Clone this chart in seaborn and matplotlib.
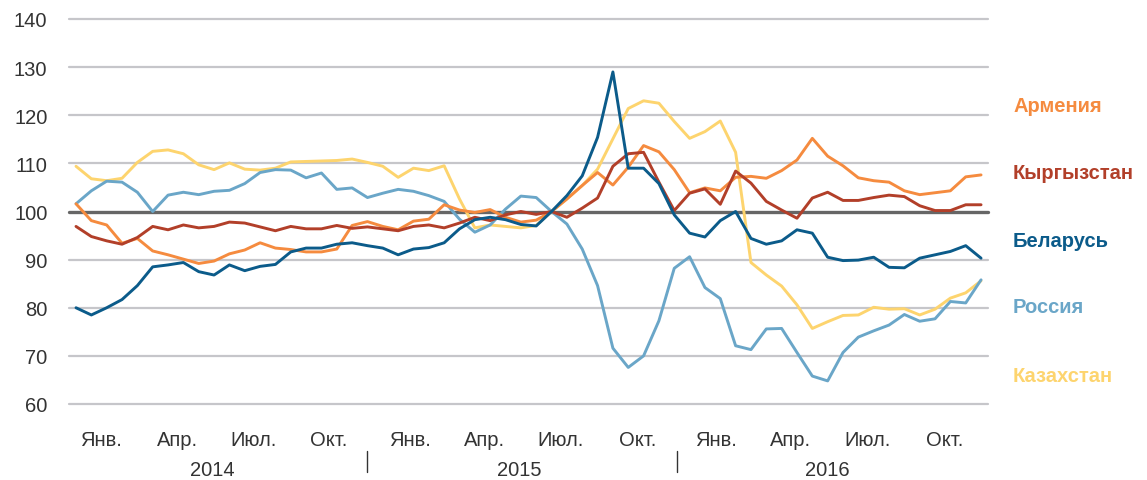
import numpy as np
import pandas as pd
import matplotlib
matplotlib.use("Agg")
import matplotlib.pyplot as plt
import matplotlib.transforms as mtransforms
import seaborn as sns

# ---------------- data ----------------
countries = ["Армения", "Кыргызстан", "Беларусь", "Россия", "Казахстан"]

armenia = [101.6, 98.1, 97.2, 93.4, 94.4, 91.8, 91.0, 90.1, 89.2, 89.7,
           91.2, 92.0, 93.5, 92.4, 92.1, 91.6, 91.6, 92.2, 97.1, 97.9,
           96.9, 96.2, 98.0, 98.4, 101.4, 100.3, 99.8, 100.4, 98.8, 97.8,
           98.2, 100.0, 102.6, 105.4, 108.1, 105.5, 109.2, 113.7, 112.4, 108.7,
           103.9, 104.9, 104.3, 107.1, 107.3, 106.9, 108.5, 110.7, 115.2, 111.5,
           109.5, 107.0, 106.4, 106.1, 104.3, 103.5, 103.9, 104.3, 107.2, 107.6]

kyrgyzstan = [96.9, 94.8, 93.9, 93.2, 94.6, 96.9, 96.2, 97.2, 96.6, 96.9,
              97.8, 97.6, 96.8, 96.0, 96.9, 96.4, 96.4, 97.1, 96.5, 96.8,
              96.4, 96.0, 96.9, 97.2, 96.6, 97.6, 98.8, 98.1, 99.3, 100.0,
              99.4, 100.0, 98.8, 100.7, 102.8, 109.4, 112.0, 112.3, 106.1, 100.2,
              103.8, 104.7, 101.5, 108.4, 105.9, 102.1, 100.3, 98.6, 102.8, 104.0,
              102.3, 102.3, 102.9, 103.4, 103.1, 101.2, 100.2, 100.2, 101.4, 101.4]

belarus = [80.0, 78.5, 80.0, 81.7, 84.6, 88.5, 88.9, 89.4, 87.5, 86.8,
           88.9, 87.7, 88.6, 89.0, 91.6, 92.4, 92.4, 93.2, 93.5, 92.9,
           92.4, 91.0, 92.2, 92.5, 93.5, 96.4, 98.3, 98.8, 98.3, 97.3,
           97.0, 100.0, 103.3, 107.4, 115.4, 129.0, 109.0, 109.0, 105.8, 99.3,
           95.5, 94.7, 98.1, 100.0, 94.4, 93.2, 93.9, 96.2, 95.5, 90.5,
           89.8, 89.9, 90.5, 88.4, 88.3, 90.3, 91.0, 91.7, 92.9, 90.3]

russia = [101.6, 104.3, 106.3, 106.1, 104.0, 100.0, 103.4, 104.0, 103.5, 104.2,
          104.4, 105.8, 108.1, 108.7, 108.6, 107.0, 108.0, 104.6, 104.9, 102.9,
          103.8, 104.6, 104.2, 103.3, 102.1, 98.4, 95.7, 97.2, 100.5, 103.2,
          102.9, 100.0, 97.4, 92.2, 84.6, 71.6, 67.6, 70.0, 77.3, 88.2,
          90.6, 84.2, 81.9, 72.1, 71.3, 75.6, 75.7, 70.7, 65.8, 64.8,
          70.7, 73.9, 75.2, 76.4, 78.6, 77.2, 77.7, 81.3, 81.0, 85.8]

kazakhstan = [109.4, 106.8, 106.4, 106.9, 110.2, 112.5, 112.8, 112.0, 109.7, 108.7,
              110.1, 108.8, 108.6, 109.0, 110.3, 110.4, 110.5, 110.6, 110.9, 110.2,
              109.4, 107.1, 109.0, 108.5, 109.5, 102.6, 96.6, 97.2, 96.9, 96.6,
              97.1, 100.0, 102.6, 105.4, 108.8, 115.1, 121.4, 123.0, 122.5, 118.7,
              115.2, 116.6, 118.8, 112.3, 89.4, 86.8, 84.5, 80.6, 75.7, 77.1,
              78.4, 78.5, 80.1, 79.7, 79.8, 78.5, 79.7, 82.0, 83.1, 85.6]

month_labels = ["Янв.", "Апр.", "Июл.", "Окт."] * 3
month_pos = [1.65, 6.6, 11.6, 16.5, 21.8, 26.6, 31.6, 36.6, 41.7, 46.6, 51.6, 56.6]
years = ["2014", "2015", "2016"]
year_pos = [8.9, 28.9, 49.0]
separators = [19.0, 39.2]

label_y = [122.0, 108.0, 93.9, 80.2, 66.0]  # label positions (data y)

# ---------------- build frame ----------------
series = [armenia, kyrgyzstan, belarus, russia, kazakhstan]
frames = []
for name, vals in zip(countries, series):
    frames.append(pd.DataFrame({"t": np.arange(len(vals)), "value": vals, "country": name}))
df = pd.concat(frames, ignore_index=True)

colors = {"Армения": "#F58B3F", "Кыргызстан": "#B23F29", "Беларусь": "#0B5B8A",
          "Россия": "#6AA6C8", "Казахстан": "#FDD46E"}

sns.set_theme(style="white")
plt.rcParams["font.family"] = ["Liberation Sans", "DejaVu Sans"]

W, H = 1147, 481
fig = plt.figure(figsize=(W / 100, H / 100), dpi=100)
left, right, top, bottom = 69, 988, 20, 405
ax = fig.add_axes([left / W, 1 - bottom / H, (right - left) / W, (bottom - top) / H])

# grid
for yv in range(60, 141, 10):
    if yv == 100:
        continue
    ax.axhline(yv, color="#c6c6ca", lw=1.6, zorder=0, clip_on=False)
ax.axhline(100, color="#666666", lw=2.4, zorder=1, clip_on=False)

draw_order = ["Казахстан", "Россия", "Армения", "Кыргызстан", "Беларусь"]
sns.lineplot(data=df, x="t", y="value", hue="country", hue_order=draw_order,
             palette=colors, linewidth=2.1, legend=False, ax=ax, zorder=3)

px_per_i = 15.34
ax.set_xlim((left - 76) / px_per_i, (right - 76) / px_per_i)
ax.set_ylim(60, 140)
for s in ax.spines.values():
    s.set_visible(False)

fs = 14.5
ax.set_yticks(range(60, 141, 10))
ax.tick_params(axis="y", length=0, pad=15.5, labelsize=fs, labelcolor="#333333")
ax.set_xticks(month_pos)
ax.set_xticklabels(month_labels)
ax.tick_params(axis="x", length=0, pad=19, labelsize=fs, labelcolor="#333333")
ax.set_xlabel("")
ax.set_ylabel("")

trans = mtransforms.blended_transform_factory(ax.transData, ax.transAxes)
for yr, xp in zip(years, year_pos):
    ax.text(xp, -0.171, yr, transform=trans, ha="center", va="center",
            fontsize=fs, color="#333333")
for xs in separators:
    ax.plot([xs, xs], [-0.122, -0.176], transform=trans, color="#333333",
            lw=1.0, clip_on=False)

xlab = (1013 - 76) / px_per_i
for name, ly in zip(countries, label_y):
    ax.text(xlab, ly, name, ha="left", va="center", fontsize=14.5,
            fontweight="bold", color=colors[name], clip_on=False)

fig.savefig("out.png", dpi=100)
